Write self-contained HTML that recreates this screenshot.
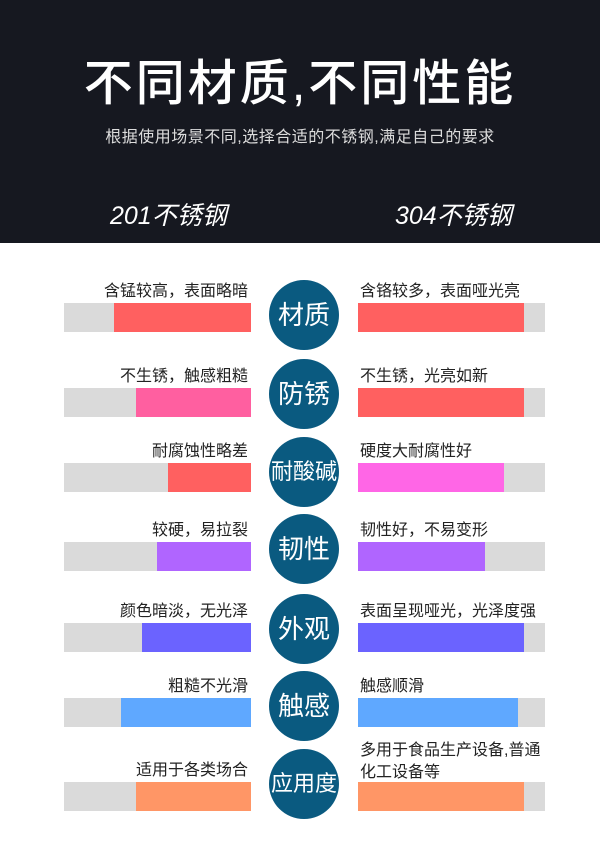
<!DOCTYPE html>
<html><head><meta charset="utf-8"><style>
*{margin:0;padding:0}
body{width:600px;height:850px;background:#fff;position:relative;overflow:hidden;font-family:"Liberation Sans","Noto Sans CJK SC",sans-serif}
.hd{position:absolute;left:0;top:0;width:600px;height:243px;background:#161820}
.t{position:absolute;left:0;width:600px;text-align:center;color:#fff}
.g{position:absolute;background:#dadada;height:29px}
.c{position:absolute;height:29px}
.lt{position:absolute;font-size:16px;color:#222;line-height:18px}
.cir{position:absolute;width:70px;height:70px;border-radius:50%;background:#0a5a80;color:#fff;font-size:26px;text-align:center;line-height:70px}
</style></head><body>
<div class="hd"></div>
<div class="t" style="top:53px;font-size:49px;line-height:62px;font-weight:500;letter-spacing:3px">不同材质,不同性能</div>
<div class="t" style="top:128px;font-size:16px;line-height:20px;color:#ddd;letter-spacing:0.5px">根据使用场景不同,选择合适的不锈钢,满足自己的要求</div>
<div style="position:absolute;left:110px;top:201px;font-size:25px;color:#fff;font-style:italic;line-height:30px">201不锈钢</div>
<div style="position:absolute;left:395px;top:201px;font-size:25px;color:#fff;font-style:italic;line-height:30px">304不锈钢</div>

<div class="g" style="left:64px;width:187px;top:303px"></div><div class="c" style="left:114px;width:137px;top:303px;background:#ff6060"></div>
<div class="g" style="left:358px;width:187px;top:303px"></div><div class="c" style="left:358px;width:166px;top:303px;background:#ff6060"></div>
<div class="lt" style="right:352px;top:283px">含锰较高，表面略暗</div><div class="lt" style="left:360px;top:283px">含铬较多，表面哑光亮</div>
<div class="cir" style="left:269px;top:280px">材质</div>

<div class="g" style="left:64px;width:187px;top:388px"></div><div class="c" style="left:136px;width:115px;top:388px;background:#ff5fa0"></div>
<div class="g" style="left:358px;width:187px;top:388px"></div><div class="c" style="left:358px;width:166px;top:388px;background:#ff6060"></div>
<div class="lt" style="right:352px;top:368px">不生锈，触感粗糙</div><div class="lt" style="left:360px;top:368px">不生锈，光亮如新</div>
<div class="cir" style="left:269px;top:359px">防锈</div>

<div class="g" style="left:64px;width:187px;top:463px"></div><div class="c" style="left:168px;width:83px;top:463px;background:#ff6060"></div>
<div class="g" style="left:358px;width:187px;top:463px"></div><div class="c" style="left:358px;width:146px;top:463px;background:#ff66e6"></div>
<div class="lt" style="right:352px;top:443px">耐腐蚀性略差</div><div class="lt" style="left:360px;top:443px">硬度大耐腐性好</div>
<div class="cir" style="left:269px;top:437px;font-size:22px">耐酸碱</div>

<div class="g" style="left:64px;width:187px;top:542px"></div><div class="c" style="left:157px;width:94px;top:542px;background:#b065ff"></div>
<div class="g" style="left:358px;width:187px;top:542px"></div><div class="c" style="left:358px;width:127px;top:542px;background:#b065ff"></div>
<div class="lt" style="right:352px;top:522px">较硬，易拉裂</div><div class="lt" style="left:360px;top:522px">韧性好，不易变形</div>
<div class="cir" style="left:269px;top:514px">韧性</div>

<div class="g" style="left:64px;width:187px;top:623px"></div><div class="c" style="left:142px;width:109px;top:623px;background:#6b63ff"></div>
<div class="g" style="left:358px;width:187px;top:623px"></div><div class="c" style="left:358px;width:166px;top:623px;background:#6b63ff"></div>
<div class="lt" style="right:352px;top:603px">颜色暗淡，无光泽</div><div class="lt" style="left:360px;top:603px">表面呈现哑光，光泽度强</div>
<div class="cir" style="left:269px;top:594px">外观</div>

<div class="g" style="left:64px;width:187px;top:698px"></div><div class="c" style="left:121px;width:130px;top:698px;background:#5fa8ff"></div>
<div class="g" style="left:358px;width:187px;top:698px"></div><div class="c" style="left:358px;width:160px;top:698px;background:#5fa8ff"></div>
<div class="lt" style="right:352px;top:678px">粗糙不光滑</div><div class="lt" style="left:360px;top:678px">触感顺滑</div>
<div class="cir" style="left:269px;top:671px">触感</div>

<div class="g" style="left:64px;width:187px;top:782px"></div><div class="c" style="left:136px;width:115px;top:782px;background:#ff9666"></div>
<div class="g" style="left:358px;width:187px;top:782px"></div><div class="c" style="left:358px;width:166px;top:782px;background:#ff9666"></div>
<div class="lt" style="right:352px;top:762px">适用于各类场合</div><div class="lt" style="left:360px;top:740px;line-height:22px">多用于食品生产设备,普通<br>化工设备等</div>
<div class="cir" style="left:269px;top:749px;font-size:22px">应用度</div>
</body></html>
